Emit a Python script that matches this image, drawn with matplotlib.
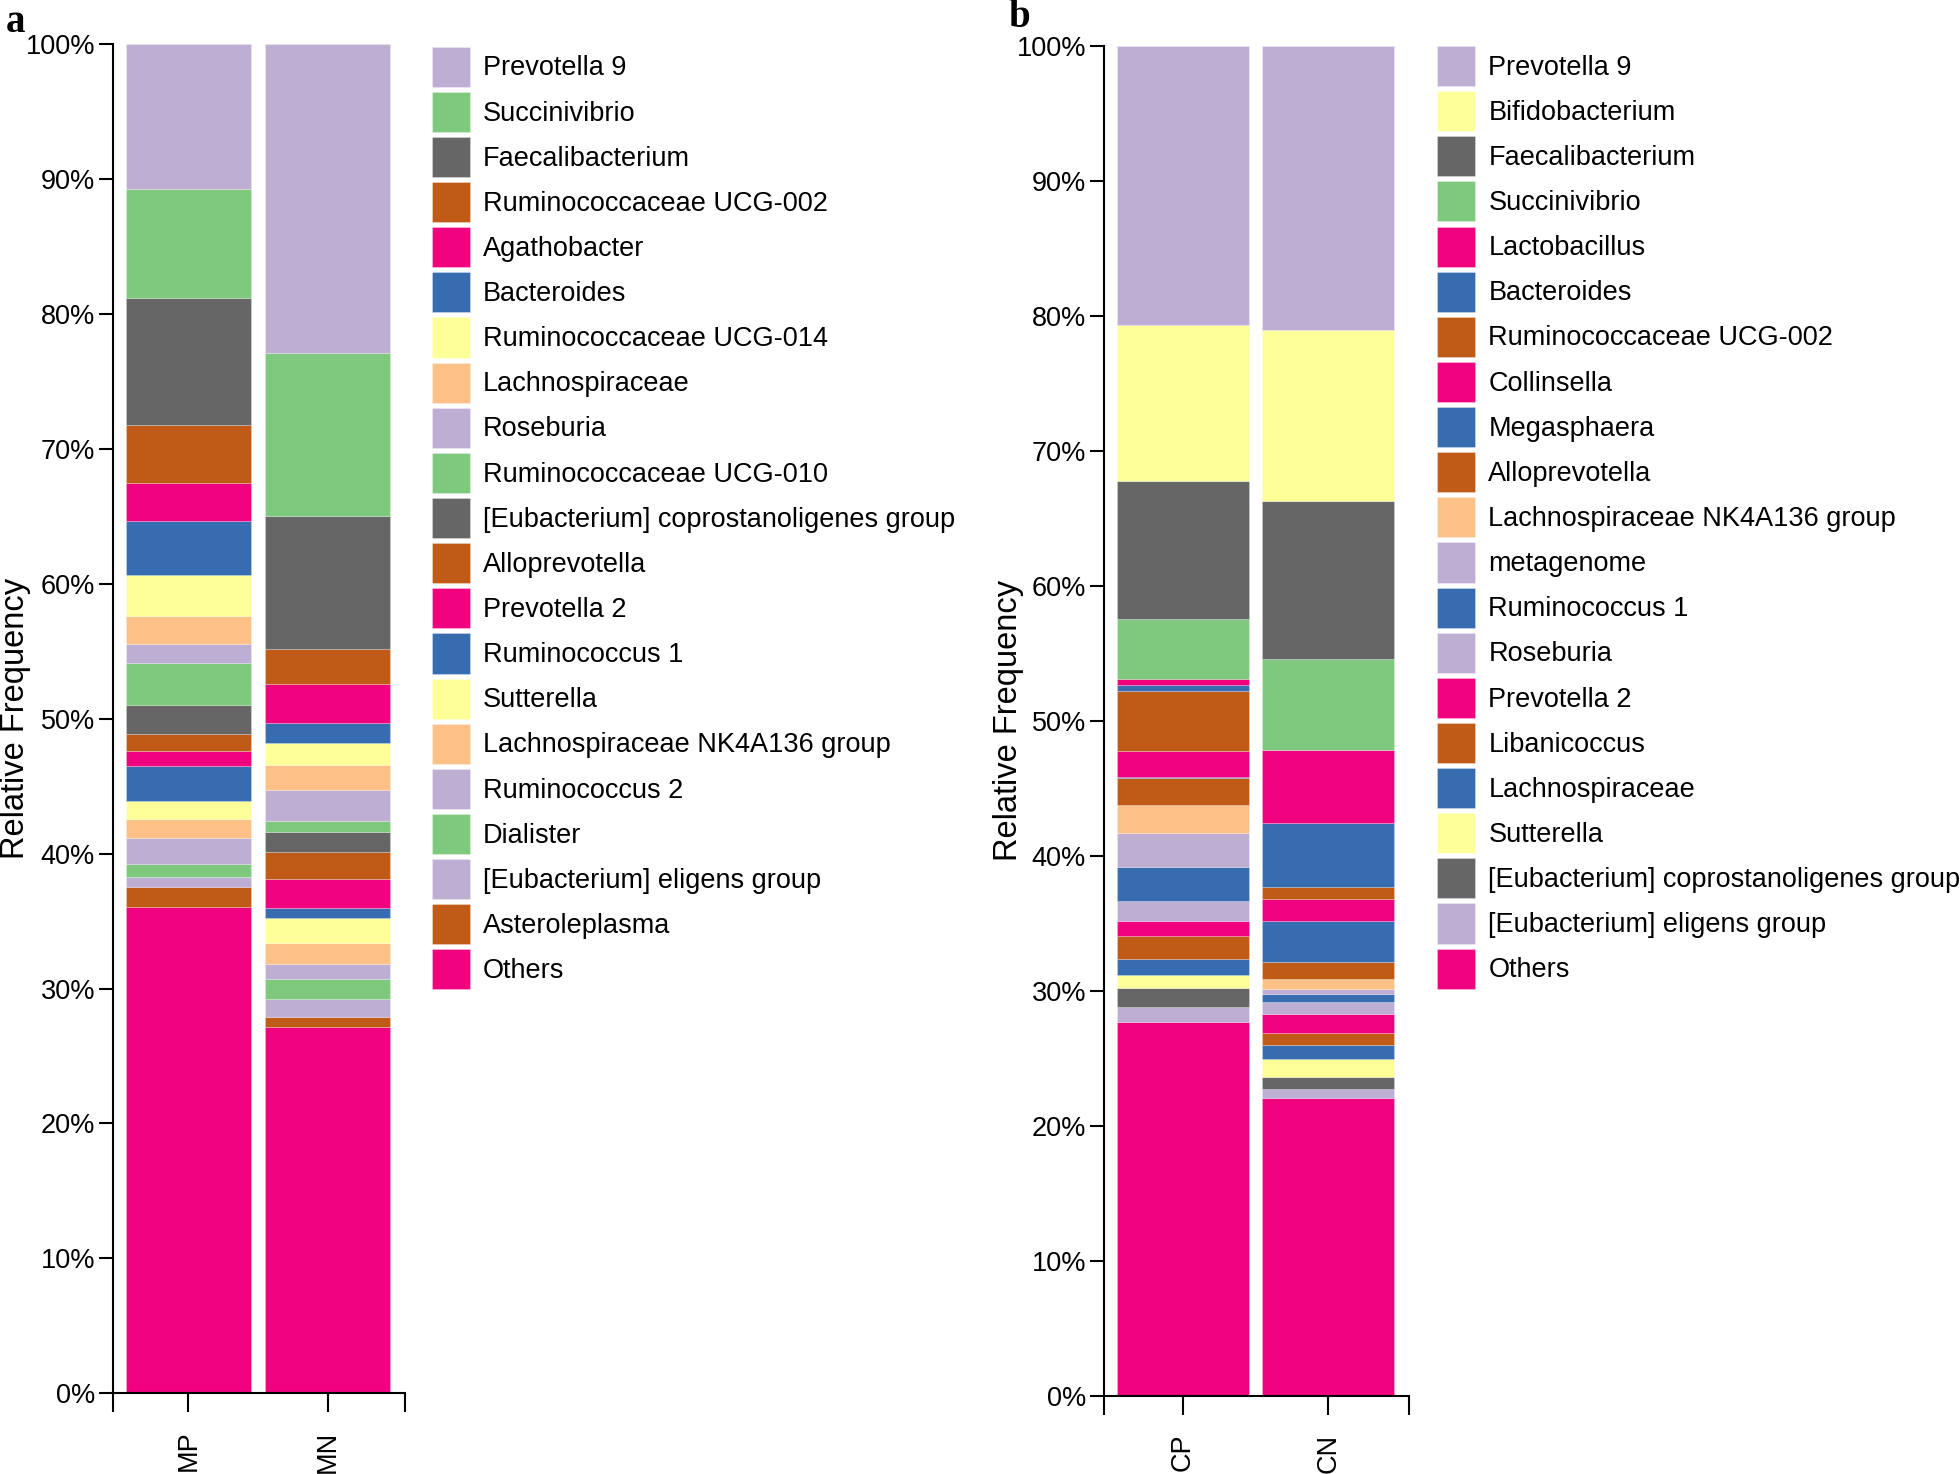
import numpy as np
import matplotlib
matplotlib.use("Agg")
import matplotlib.pyplot as plt
from matplotlib.patches import Patch
from matplotlib.ticker import FixedLocator, PercentFormatter

plt.rcParams['font.family'] = ['Liberation Sans', 'DejaVu Sans']

# Accent-like palette used in both panels
LIL = '#BEAED4'
GRN = '#7FC97F'
GRY = '#666666'
BRN = '#BF5B17'
PNK = '#F0027F'
BLU = '#386CB0'
YEL = '#FFFF99'
ORG = '#FDC086'

# Panel a: taxa listed top (legend order) to bottom
taxa_a = ['Prevotella 9', 'Succinivibrio', 'Faecalibacterium', 'Ruminococcaceae UCG-002',
          'Agathobacter', 'Bacteroides', 'Ruminococcaceae UCG-014', 'Lachnospiraceae',
          'Roseburia', 'Ruminococcaceae UCG-010', '[Eubacterium] coprostanoligenes group',
          'Alloprevotella', 'Prevotella 2', 'Ruminococcus 1', 'Sutterella',
          'Lachnospiraceae NK4A136 group', 'Ruminococcus 2', 'Dialister',
          '[Eubacterium] eligens group', 'Asteroleplasma', 'Others']
colors_a = [LIL, GRN, GRY, BRN, PNK, BLU, YEL, ORG, LIL, GRN, GRY, BRN, PNK, BLU, YEL, ORG,
            LIL, GRN, LIL, BRN, PNK]
samples_a = ['MP', 'MN']
mp = [10.75, 8.08, 9.39, 4.28, 2.84, 4.00, 3.02, 2.10, 1.43, 3.09, 2.15, 1.26, 1.09, 2.61,
      1.36, 1.36, 1.95, 0.94, 0.75, 1.48, 36.07]
mn = [22.91, 12.03, 9.91, 2.57, 2.91, 1.49, 1.60, 1.86, 2.30, 0.83, 1.46, 2.01, 2.12, 0.79,
      1.81, 1.60, 1.09, 1.50, 1.34, 0.69, 27.18]

# Panel b
taxa_b = ['Prevotella 9', 'Bifidobacterium', 'Faecalibacterium', 'Succinivibrio',
          'Lactobacillus', 'Bacteroides', 'Ruminococcaceae UCG-002', 'Collinsella',
          'Megasphaera', 'Alloprevotella', 'Lachnospiraceae NK4A136 group', 'metagenome',
          'Ruminococcus 1', 'Roseburia', 'Prevotella 2', 'Libanicoccus', 'Lachnospiraceae',
          'Sutterella', '[Eubacterium] coprostanoligenes group',
          '[Eubacterium] eligens group', 'Others']
colors_b = [LIL, YEL, GRY, GRN, PNK, BLU, BRN, PNK, BLU, BRN, ORG, LIL, BLU, LIL, PNK, BRN,
            BLU, YEL, GRY, LIL, PNK]
samples_b = ['CP', 'CN']
cp = [20.70, 11.56, 10.19, 4.45, 0.47, 0.44, 4.40, 1.95, 0.10, 1.95, 2.09, 2.52, 2.50, 1.46,
      1.18, 1.65, 1.19, 0.94, 1.41, 1.18, 27.67]
cn = [21.07, 12.62, 11.73, 6.71, 5.43, 4.70, 0.93, 1.59, 3.08, 1.26, 0.74, 0.35, 0.57, 0.91,
      1.43, 0.87, 1.06, 1.33, 0.86, 0.69, 22.07]


def stacked(ax, samples, series, taxa, colors, width, label_x):
    x = np.arange(len(samples))
    bottom = np.zeros(len(samples))
    # stack from the last taxon (Others) upward
    for i in range(len(taxa) - 1, -1, -1):
        vals = np.array([s[i] for s in series])
        ax.bar(x, vals, width, bottom=bottom, color=colors[i],
               edgecolor=(1, 1, 1, 0.4), linewidth=0.4)
        bottom += vals
    ax.set_xlim(-0.54, 1.555)
    ax.set_ylim(0, 100)
    ax.set_xticks(x)
    ax.set_xticklabels(samples, rotation=90, fontsize=19.5)
    ax.xaxis.set_minor_locator(FixedLocator([-0.54, 1.555]))
    ax.tick_params(axis='x', which='both', length=14, width=1.5, pad=13)
    ax.set_yticks(np.arange(0, 101, 10))
    ax.yaxis.set_major_formatter(PercentFormatter(decimals=0))
    ax.tick_params(axis='y', length=10, width=1.5, labelsize=19.5, pad=3)
    for s in ['top', 'right']:
        ax.spines[s].set_visible(False)
    for s in ['left', 'bottom']:
        ax.spines[s].set_linewidth(1.5)
    ax.set_ylabel('Relative Frequency', fontsize=23.5)
    ax.yaxis.set_label_coords(label_x, 0.5)


fig = plt.figure(figsize=(19.6, 14.74), dpi=100)
ax_a = fig.add_axes([0.0577, 0.0548, 0.149, 0.9152])
ax_b = fig.add_axes([0.5633, 0.0528, 0.1556, 0.9162])

stacked(ax_a, samples_a, [mp, mn], taxa_a, colors_a, 0.9, -0.281)
stacked(ax_b, samples_b, [cp, cn], taxa_b, colors_b, 0.907, -0.262)

for taxa, colors, anchor in [(taxa_a, colors_a, (0.2204, 0.9683)),
                             (taxa_b, colors_b, (0.7332, 0.9688))]:
    handles = [Patch(facecolor=c, edgecolor=(1, 1, 1, 0.4), linewidth=0.5) for c in colors]
    fig.legend(handles, taxa, loc='upper left', bbox_to_anchor=anchor,
               bbox_transform=fig.transFigure, frameon=False, fontsize=19.5,
               handlelength=1.41, handleheight=1.902, labelspacing=0.185,
               handletextpad=0.48, borderpad=0, borderaxespad=0)

fig.text(6 / 1960, 1 - 32 / 1474, 'a', family='Liberation Serif', weight='bold', fontsize=28)
fig.text(1008 / 1960, 1 - 27 / 1474, 'b', family='Liberation Serif', weight='bold', fontsize=28)

fig.savefig('out.png', dpi=100)
